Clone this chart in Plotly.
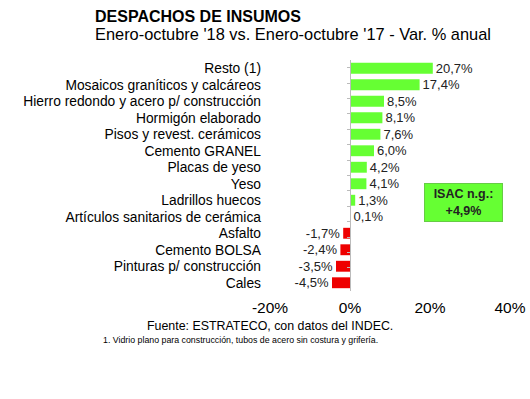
import plotly.graph_objects as go

categories = [
    "Resto (1)",
    "Mosaicos graníticos y calcáreos",
    "Hierro redondo y acero p/ construcción",
    "Hormigón elaborado",
    "Pisos y revest. cerámicos",
    "Cemento GRANEL",
    "Placas de yeso",
    "Yeso",
    "Ladrillos huecos",
    "Artículos sanitarios de cerámica",
    "Asfalto",
    "Cemento BOLSA",
    "Pinturas p/ construcción",
    "Cales",
]
values = [20.7, 17.4, 8.5, 8.1, 7.6, 6.0, 4.2, 4.1, 1.3, 0.1, -1.7, -2.4, -3.5, -4.5]
x_ticks = [-20, 0, 20, 40]
x_tick_labels = ["-20%", "0%", "20%", "40%"]
title_text = "DESPACHOS DE INSUMOS"
subtitle_text = "Enero-octubre '18 vs. Enero-octubre '17 - Var. % anual"
isac_label = "ISAC n.g.:<br>+4,9%"

GREEN = "#66FF33"
RED = "#EE0000"
FONT = "Liberation Sans, Arial, sans-serif"

colors = [GREEN if v >= 0 else RED for v in values]
texts = [f"{v:.1f}%".replace(".", ",") for v in values]

fig = go.Figure()
fig.add_trace(go.Bar(
    x=values, y=categories, orientation="h",
    marker=dict(color=colors, line=dict(width=0)),
    width=0.66,
    text=texts, textposition="outside", cliponaxis=False, constraintext="none",
    textfont=dict(family=FONT, size=13, color="#222222"),
    hoverinfo="skip",
))
# invisible trace for the zero-axis with boundary ticks
fig.add_trace(go.Scatter(
    x=[0] * len(categories), y=categories, yaxis="y2",
    mode="markers", marker=dict(opacity=0), hoverinfo="skip", showlegend=False,
))

fig.update_layout(
    template="none",
    width=530, height=399,
    margin=dict(l=270, r=20, t=60, b=108, autoexpand=False),
    paper_bgcolor="white", plot_bgcolor="white",
    showlegend=False,
    hovermode=False,
    font=dict(family=FONT, size=12, color="black"),
    xaxis=dict(
        range=[-20, 40], tickvals=x_ticks, ticktext=x_tick_labels,
        showgrid=False, zeroline=False, showline=False, ticks="",
        tickfont=dict(size=15.5, color="black"), ticklabelstandoff=5,
        automargin=False,
    ),
    yaxis=dict(
        categoryorder="array", categoryarray=categories, autorange="reversed",
        tickmode="array", tickvals=categories, ticktext=categories,
        showgrid=False, zeroline=False, showline=False, ticks="",
        tickfont=dict(size=13.8, color="black"), ticklabelstandoff=8,
        automargin=False,
    ),
    yaxis2=dict(
        overlaying="y", anchor="free", position=1 / 3, side="left",
        categoryorder="array", categoryarray=categories, autorange="reversed",
        showline=True, linecolor="#BBBBBB", linewidth=1,
        ticks="outside", tickson="boundaries", ticklen=3, tickcolor="#BBBBBB",
        showticklabels=False, showgrid=False, zeroline=False,
        automargin=False,
    ),
    annotations=[
        dict(text="<b>" + title_text + "</b>",
             xref="paper", yref="paper", align="left",
             x=-0.7375, y=1.0, xanchor="left", yanchor="middle", yshift=44,
             showarrow=False, font=dict(size=16, color="black")),
        dict(text=subtitle_text,
             xref="paper", yref="paper", align="left",
             x=-0.7375, y=1.0, xanchor="left", yanchor="middle", yshift=26,
             showarrow=False, font=dict(size=16.4, color="black")),
        dict(text="<b>" + isac_label + "</b>", xref="paper", yref="paper",
             x=0.806, y=0.383, xanchor="center", yanchor="middle",
             showarrow=False, font=dict(size=12.5, color="#222222"),
             width=77, height=37, borderpad=0,
             bgcolor=GREEN, bordercolor="#66CC44", borderwidth=1),
        dict(text="Fuente: ESTRATECO, con datos del INDEC.", xref="paper", yref="paper",
             x=0.0, y=0, xanchor="center", yanchor="middle", yshift=-35,
             showarrow=False, font=dict(size=12.4, color="black")),
        dict(text="1. Vidrio plano para construcción, tubos de acero sin costura y grifería.",
             xref="paper", yref="paper",
             x=-0.125, y=0, xanchor="center", yanchor="middle", yshift=-49,
             showarrow=False, font=dict(size=8.8, color="black")),
    ],
)

fig.write_html("out.html", config={"displayModeBar": False, "staticPlot": True},
               post_script="document.body.style.margin='0';")
